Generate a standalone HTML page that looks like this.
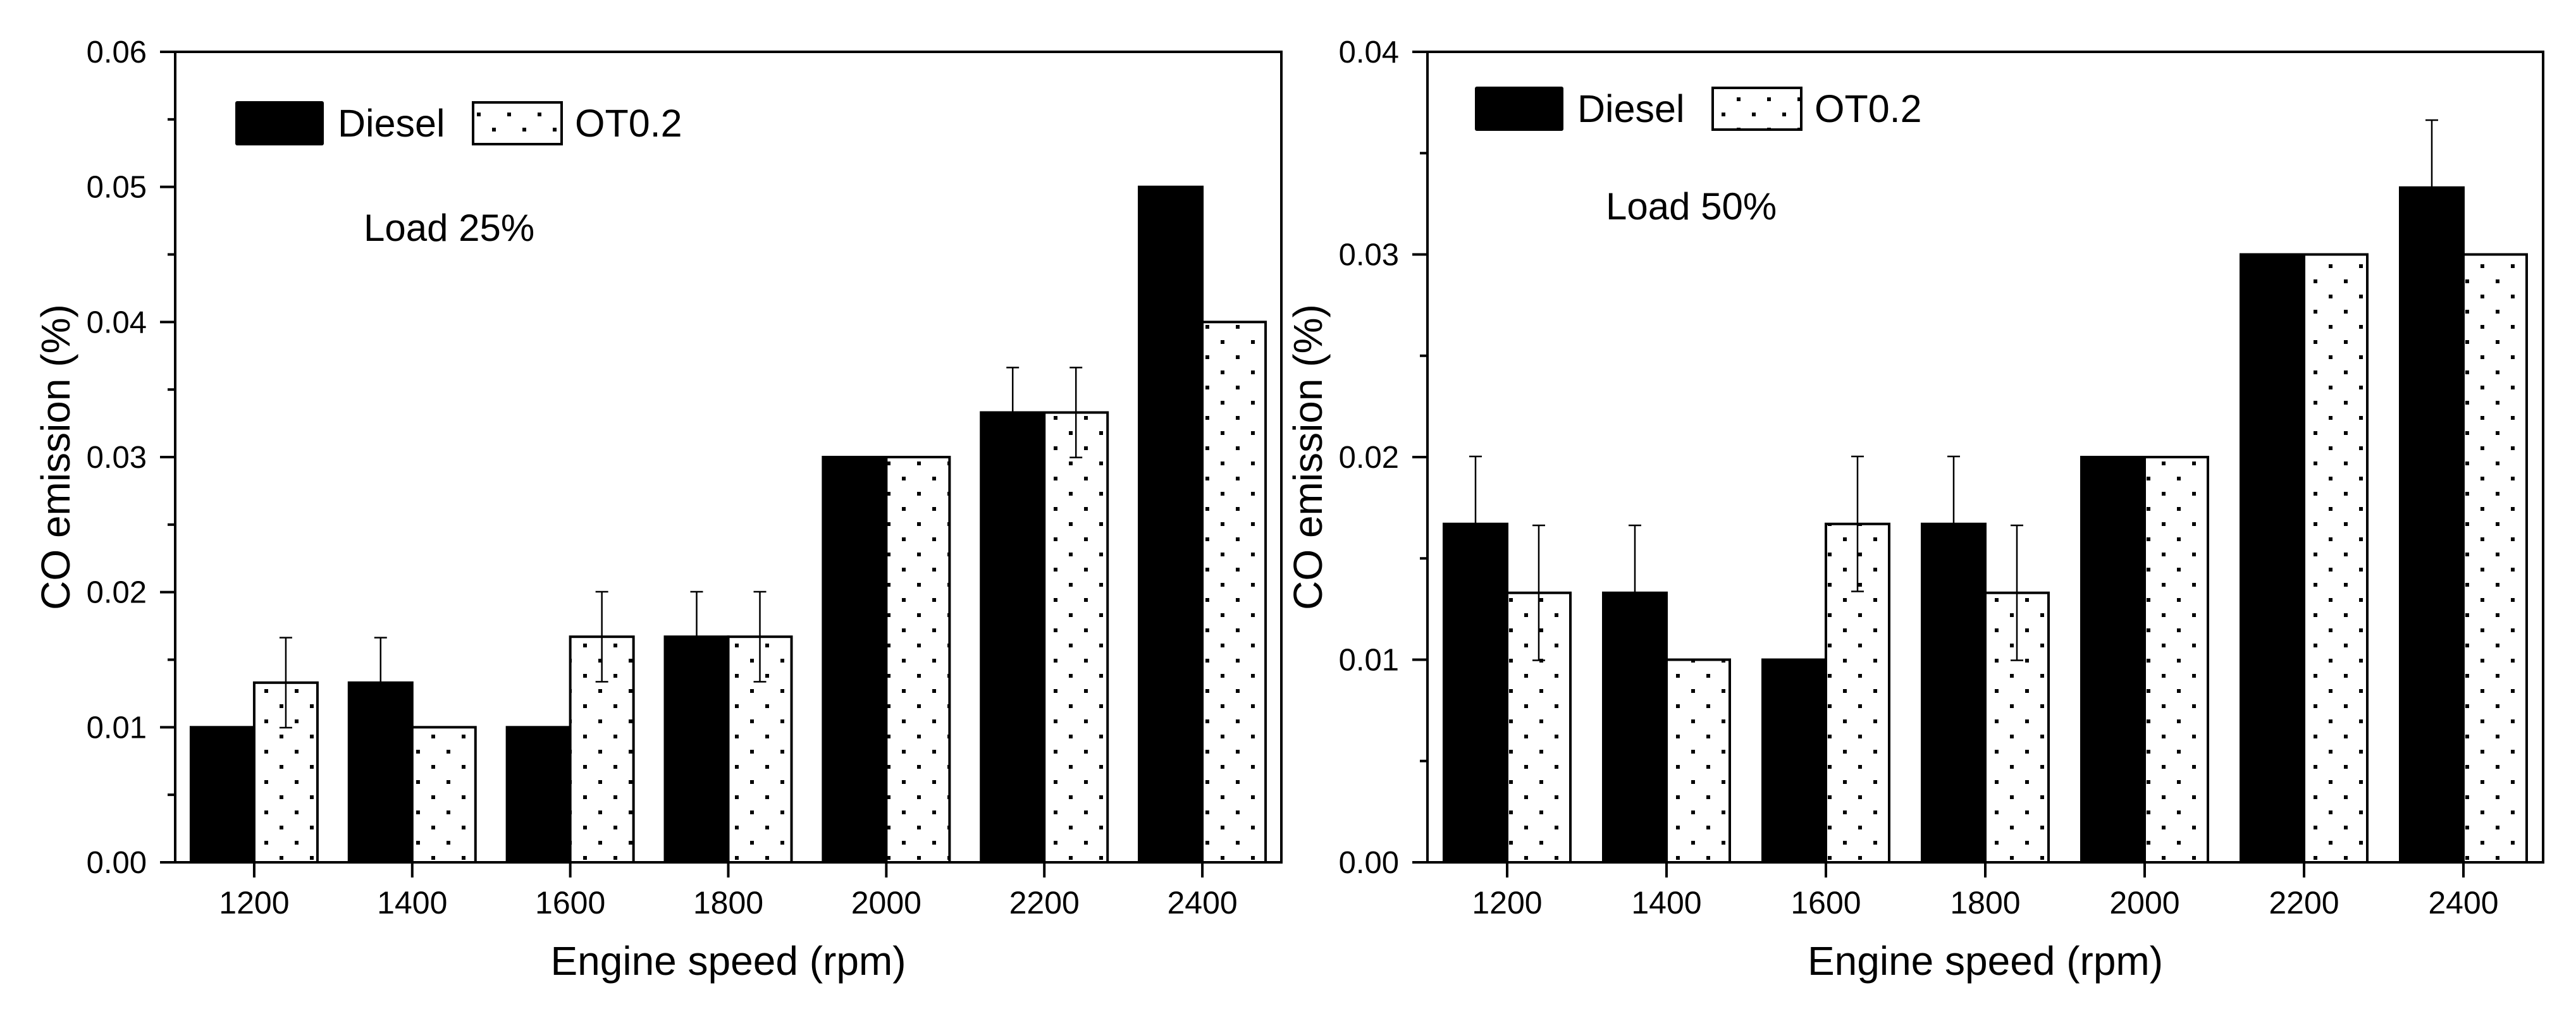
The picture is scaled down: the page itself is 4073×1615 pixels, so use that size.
<!DOCTYPE html>
<html><head><meta charset="utf-8"><style>
html,body{margin:0;padding:0;background:#fff;}
svg{display:block;font-family:"Liberation Sans",Arial,sans-serif;}
</style></head><body>
<svg id="fig" width="4073" height="1615" viewBox="0 0 4073 1615" xmlns="http://www.w3.org/2000/svg">
<defs>
<pattern id="dots" patternUnits="userSpaceOnUse" width="48" height="48">
<rect width="48" height="48" fill="#fff"/>
<rect x="10" y="10" width="6" height="6" fill="#000"/>
<rect x="34" y="34" width="6" height="6" fill="#000"/>
</pattern>
</defs>
</svg>
<script>
const categories = [1200,1400,1600,1800,2000,2200,2400];
const dieselLoad25 = [0.01,0.0133,0.01,0.0167,0.03,0.0333,0.05];
const ot02Load25 = [0.0133,0.01,0.0167,0.0167,0.03,0.0333,0.04];
const dieselErr25 = [0,0.00333,0,0.00333,0,0.00333,0];
const otErr25 = [0.00333,0,0.00333,0.00333,0,0.00333,0];
const dieselLoad50 = [0.0167,0.0133,0.01,0.0167,0.02,0.03,0.0333];
const ot02Load50 = [0.0133,0.01,0.0167,0.0133,0.02,0.03,0.03];
const dieselErr50 = [0.00333,0.00333,0,0.00333,0,0,0.00333];
const otErr50 = [0.00333,0,0.00333,0.00333,0,0,0];
const yTicks25 = [0,0.01,0.02,0.03,0.04,0.05,0.06];
const yTickLabels25 = ["0.00","0.01","0.02","0.03","0.04","0.05","0.06"];
const yTicks50 = [0,0.01,0.02,0.03,0.04];
const yTickLabels50 = ["0.00","0.01","0.02","0.03","0.04"];

const NS="http://www.w3.org/2000/svg";
const svg=document.getElementById('fig');
function mk(tag,attrs,parent){const e=document.createElementNS(NS,tag);for(const k in attrs)e.setAttribute(k,attrs[k]);(parent||svg).appendChild(e);return e;}

function panel(cfg){
  const g=mk('g',{});
  
  
  const L=cfg.left,R=cfg.right,T=82,B=1364;
  const xs=v=>L+(v-1100)/1400*(R-L);
  const ys=v=>B-v/cfg.ymax*(B-T);
  const bw=100;
  // bars
  categories.forEach((c,i)=>{
    const xc=xs(c);
    const d=mk('rect',{x:xc-bw,y:ys(cfg.d[i]),width:bw,height:B-ys(cfg.d[i]),fill:'#000',stroke:'#000','stroke-width':4},g);
    
    
    const o=mk('rect',{x:xc,y:ys(cfg.o[i]),width:bw,height:B-ys(cfg.o[i]),fill:'url(#dots)',stroke:'#000','stroke-width':4},g);
    
    
    [[xc-bw/2,cfg.d[i],cfg.de[i],'#fff'],[xc+bw/2,cfg.o[i],cfg.oe[i],'#000']].forEach(([ex,v,e])=>{
      if(!e)return;
      const eg=mk('g',{stroke:'#000','stroke-width':2.5},g);
      
      
      mk('line',{x1:ex,x2:ex,y1:ys(v-e),y2:ys(v+e)},eg);
      mk('line',{x1:ex-10,x2:ex+10,y1:ys(v+e),y2:ys(v+e)},eg);
      mk('line',{x1:ex-10,x2:ex+10,y1:ys(v-e),y2:ys(v-e)},eg);
    });
  });
  // frame
  const fr=mk('rect',{x:L,y:T,width:R-L,height:B-T,fill:'none',stroke:'#000','stroke-width':4},g);
  
  
  // y ticks
  cfg.yt.forEach((v,i)=>{
    mk('line',{x1:L-24,x2:L,y1:ys(v),y2:ys(v),stroke:'#000','stroke-width':4},g);
    if(i<cfg.yt.length-1) mk('line',{x1:L-12,x2:L,y1:ys(v+0.005),y2:ys(v+0.005),stroke:'#000','stroke-width':4},g);
    const t=mk('text',{x:L-45,y:ys(v)+17,'text-anchor':'end','font-size':49},g);
    t.textContent=cfg.yl[i];
    
    
  });
  categories.forEach(c=>{
    mk('line',{x1:xs(c),x2:xs(c),y1:B,y2:B+24,stroke:'#000','stroke-width':4},g);
    const t=mk('text',{x:xs(c),y:1445,'text-anchor':'middle','font-size':50},g);
    t.textContent=c;
    
    
  });
  const xt=mk('text',{x:(L+R)/2,y:1542,'text-anchor':'middle','font-size':64},g);
  xt.textContent='Engine speed (rpm)';
  
  
  const yt=mk('text',{x:0,y:0,'text-anchor':'middle','font-size':64,transform:`translate(${cfg.ytx},${(T+B)/2}) rotate(-90)`},g);
  yt.textContent='CO emission (%)';
  
  
  // legend
  const lg=mk('g',{},g);
  
  
  const ly=cfg.ly;
  mk('rect',{x:cfg.lx,y:ly,width:140,height:70,fill:'#000',rx:3},lg);
  let t=mk('text',{x:cfg.lx+162,y:ly+56,'font-size':61},lg);t.textContent='Diesel';
  mk('rect',{x:cfg.lx+376,y:ly+2,width:140,height:66,fill:'url(#dots)',stroke:'#000','stroke-width':4},lg);
  t=mk('text',{x:cfg.lx+537,y:ly+56,'font-size':61},lg);t.textContent='OT0.2';
  const ld=mk('text',{x:cfg.loadx,y:cfg.loady,'font-size':60},g);
  ld.textContent=cfg.load;
  
  
}
panel({name:'chart-load-25',left:277,right:2026,ymax:0.06,d:dieselLoad25,o:ot02Load25,de:dieselErr25,oe:otErr25,yt:yTicks25,yl:yTickLabels25,ytx:110,lx:372,ly:160,loadx:575,loady:381,load:'Load 25%'});
panel({name:'chart-load-50',left:2257,right:4021,ymax:0.04,d:dieselLoad50,o:ot02Load50,de:dieselErr50,oe:otErr50,yt:yTicks50,yl:yTickLabels50,ytx:2090,lx:2332,ly:137,loadx:2539,loady:347,load:'Load 50%'});
</script>
</body></html>
